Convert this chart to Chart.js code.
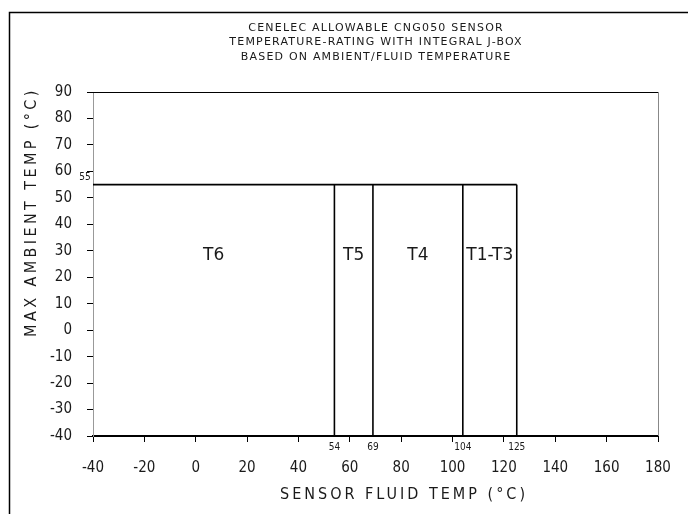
<!DOCTYPE html>
<html>
<head>
<meta charset="utf-8">
<script src="https://cdn.jsdelivr.net/npm/chart.js@4/dist/chart.umd.min.js"></script>
<style>
    html, body { margin: 0; padding: 0; background: #fff; }
</style>
</head>
<body>
<canvas id="ratingChart" width="688" height="514"></canvas>
<script>
const titleLines = [
    'CENELEC ALLOWABLE CNG050 SENSOR',
    'TEMPERATURE-RATING WITH INTEGRAL J-BOX',
    'BASED ON AMBIENT/FLUID TEMPERATURE'
];
const xAxisTitle = 'SENSOR FLUID TEMP (°C)';
const yAxisTitle = 'MAX AMBIENT TEMP (°C)';

const xRange = [-40, 180];
const yRange = [-40, 90];
const xTickStep = 20;
const yTickStep = 10;

// zone boundaries (fluid temp) and the ambient limit
const zoneEdges = [54, 69, 104, 125];
const zoneNames = ['T6', 'T5', 'T4', 'T1-T3'];
const maxAmbientTemp = 55;
const zoneLabelTemp = 28;

const FONT = "'DejaVu Sans Condensed', 'DejaVu Sans', sans-serif";
const WIDE_FONT = "'DejaVu Sans', sans-serif";
const INK = '#1a1a1a';

// horizontal limit line + one vertical per zone edge
const datasets = [];
datasets.push({
    data: [{ x: xRange[0], y: maxAmbientTemp }, { x: zoneEdges[zoneEdges.length - 1], y: maxAmbientTemp }]
});
zoneEdges.forEach(edge => {
    datasets.push({
        data: [{ x: edge, y: yRange[0] }, { x: edge, y: maxAmbientTemp }]
    });
});
datasets.forEach(ds => {
    ds.showLine = true;
    ds.borderColor = '#000';
    ds.borderWidth = 1.6;
    ds.pointRadius = 0;
    ds.fill = false;
});

// text with spacing between letters, centered on x
function spacedText(ctx, text, x, y, spacing) {
    ctx.letterSpacing = spacing + 'px';
    ctx.fillText(text, x + spacing / 2, y);
    ctx.letterSpacing = '0px';
}

// Draws the frame, titles, zone names and the small value labels
const annotations = {
    id: 'annotations',
    beforeDraw(chart) {
        const ctx = chart.ctx;
        ctx.save();
        ctx.fillStyle = '#fff';
        ctx.fillRect(0, 0, chart.width, chart.height);
        ctx.strokeStyle = '#000';
        ctx.lineWidth = 1.5;
        ctx.strokeRect(9.5, 12.5, 720, 560);
        ctx.restore();
    },
    afterDatasetsDraw(chart) {
        const ctx = chart.ctx;
        const xs = chart.scales.x;
        const ys = chart.scales.y;
        const area = chart.chartArea;
        const midX = (area.left + area.right) / 2;
        ctx.save();

        // top and right frame of the plot
        ctx.strokeStyle = '#000';
        ctx.lineWidth = 1.2;
        ctx.beginPath();
        ctx.moveTo(area.left, area.top + 0.5);
        ctx.lineTo(area.right, area.top + 0.5);
        ctx.stroke();
        ctx.strokeStyle = '#888';
        ctx.lineWidth = 1;
        ctx.beginPath();
        ctx.moveTo(area.right + 0.5, area.top);
        ctx.lineTo(area.right + 0.5, area.bottom);
        ctx.stroke();

        ctx.fillStyle = INK;
        ctx.textAlign = 'center';
        ctx.textBaseline = 'middle';

        // main title
        ctx.font = '11px ' + WIDE_FONT;
        titleLines.forEach((line, i) => {
            spacedText(ctx, line, midX, 28 + i * 14.5, 1.2);
        });

        // axis titles
        ctx.font = '16px ' + FONT;
        spacedText(ctx, xAxisTitle, midX + 27, area.bottom + 59, 3);
        ctx.save();
        ctx.translate(32, ys.getPixelForValue(44));
        ctx.rotate(-Math.PI / 2);
        spacedText(ctx, yAxisTitle, 0, 0, 3.4);
        ctx.restore();

        // zone names
        ctx.font = '17px ' + WIDE_FONT;
        const zoneStarts = [xRange[0]].concat(zoneEdges.slice(0, -1));
        zoneNames.forEach((name, i) => {
            const mid = (zoneStarts[i] + zoneEdges[i]) / 2;
            ctx.fillText(name, xs.getPixelForValue(mid), ys.getPixelForValue(zoneLabelTemp));
        });

        // edge values under the axis
        ctx.font = '10px ' + FONT;
        zoneEdges.forEach(edge => {
            ctx.fillText(String(edge), xs.getPixelForValue(edge), area.bottom + 11);
        });

        // ambient limit value
        ctx.fillText(String(maxAmbientTemp), area.left - 8, ys.getPixelForValue(maxAmbientTemp) - 7);

        ctx.restore();
    }
};

new Chart(document.getElementById('ratingChart'), {
    type: 'scatter',
    data: { datasets: datasets },
    plugins: [annotations],
    options: {
        responsive: false,
        animation: false,
        devicePixelRatio: 1,
        layout: { padding: { top: 92, right: 30, left: 0, bottom: 0 } },
        plugins: {
            legend: { display: false },
            tooltip: { enabled: false },
            title: { display: false }
        },
        scales: {
            x: {
                type: 'linear',
                min: xRange[0],
                max: xRange[1],
                ticks: {
                    stepSize: xTickStep,
                    color: INK,
                    font: { family: FONT, size: 15 },
                    padding: 17
                },
                grid: { drawOnChartArea: false, drawTicks: true, tickLength: 6, color: '#000' },
                border: { display: true, color: '#000', width: 2 },
                title: { display: false },
                afterFit(scale) { scale.height = 78; }
            },
            y: {
                type: 'linear',
                min: yRange[0],
                max: yRange[1],
                ticks: {
                    stepSize: yTickStep,
                    color: INK,
                    font: { family: FONT, size: 15 },
                    padding: 15
                },
                grid: { drawOnChartArea: false, drawTicks: true, tickLength: 6, color: '#000' },
                border: { display: true, color: '#999', width: 1 },
                title: { display: false },
                afterFit(scale) { scale.width = 93; }
            }
        }
    }
});
</script>
</body>
</html>
